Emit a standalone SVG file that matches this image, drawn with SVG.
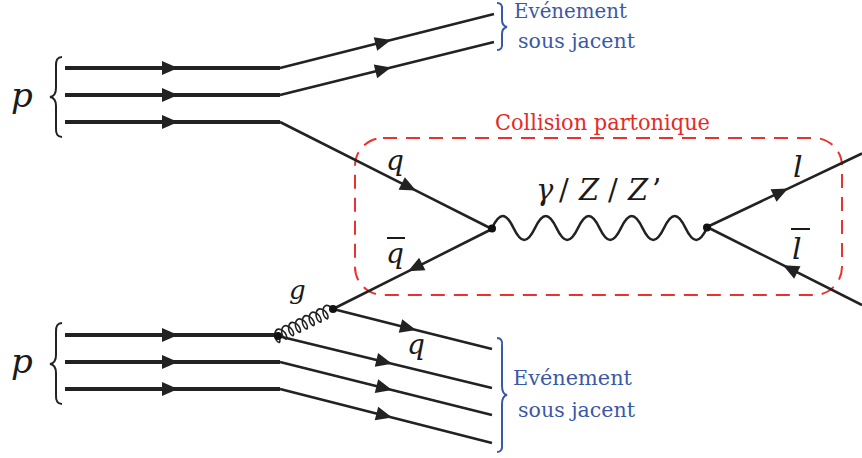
<svg xmlns="http://www.w3.org/2000/svg" width="862" height="458" viewBox="0 0 862 458">
<style>
.pl{fill:none;stroke:#222;stroke-width:4;marker-mid:url(#arr)}
.fl{fill:none;stroke:#222;stroke-width:2.6;marker-mid:url(#arr)}
.ln{fill:none;stroke:#222;stroke-width:2.6}
.gl{fill:none;stroke:#222;stroke-width:1.5}
.br{fill:none;stroke:#222;stroke-width:2}
.bb{fill:none;stroke:#3a58a8;stroke-width:2}
.math{font-family:'DejaVu Serif',serif;font-style:italic;fill:#1a1a1a}
.up{font-style:normal}
.blue{font-family:'DejaVu Serif',serif;fill:#3a58a8;font-size:20px}
.red{font-family:'DejaVu Serif',serif;fill:#e62a26;font-size:22px}
.dot{fill:#111}
</style>
<defs>
<marker id="arr" markerUnits="userSpaceOnUse" viewBox="-17 -8 18 16" markerWidth="18" markerHeight="16" refX="0" refY="0" orient="auto">
<path d="M0,0 L-16,-7 L-16,7 Z" fill="#222"/>
</marker>
</defs>
<rect width="862" height="458" fill="#fff"/>

<g id="box">
<rect x="355" y="138" width="487" height="157" rx="28" ry="28" fill="none" stroke="#e8332f" stroke-width="2" stroke-dasharray="14 9"/>
<text class="red" x="495" y="130" textLength="215" lengthAdjust="spacingAndGlyphs">Collision partonique</text>
</g>

<g id="connectors">
<path class="pl" d="M65,68 L178,68 L280,68"/>
<path class="pl" d="M65,95 L178,95 L280,95"/>
<path class="pl" d="M65,122 L178,122 L280,122"/>
<path class="fl" d="M280,68 L391,40 L494,14"/>
<path class="fl" d="M280,95 L391,67.5 L494,42"/>
<path class="fl" d="M280,122 L416,190.6 L492,229"/>
<path class="fl" d="M492,229 L408,271.3 L333,309"/>
<path class="ln" d="M492,228 c7.74,-16 13.76,-16 21.5,0 s13.76,16 21.5,0 s13.76,-16 21.5,0 s13.76,16 21.5,0 s13.76,-16 21.5,0 s13.76,16 21.5,0 s13.76,-16 21.5,0 s13.76,16 21.5,0 s13.76,-16 21.5,0 s13.76,16 21.5,0"/>
<path class="fl" d="M707,227 L788,188.6 L862,153.5"/>
<path class="fl" d="M862,305 L783,265.2 L707,227"/>
<path class="pl" d="M65,335 L178,335 L278,335"/>
<path class="pl" d="M65,362 L178,362 L280,362"/>
<path class="pl" d="M65,389 L178,389 L280,389"/>
<path class="gl" transform="translate(278,336) rotate(-26.14) scale(1,1.25)" d="M0,0 c0.638,2.618 -0.391,5 -1.585,5 c-1.194,0 -2.223,-2.382 -1.585,-5 c0.638,-2.618 2.944,-5 5.415,-5 c2.471,0 4.777,2.618 5.415,5 c0.638,2.618 -0.391,5 -1.585,5 c-1.194,0 -2.223,-2.382 -1.585,-5 c0.638,-2.618 2.944,-5 5.415,-5 c2.471,0 4.777,2.618 5.415,5 c0.638,2.618 -0.391,5 -1.585,5 c-1.194,0 -2.223,-2.382 -1.585,-5 c0.638,-2.618 2.944,-5 5.415,-5 c2.471,0 4.777,2.618 5.415,5 c0.638,2.618 -0.391,5 -1.585,5 c-1.194,0 -2.223,-2.382 -1.585,-5 c0.638,-2.618 2.944,-5 5.415,-5 c2.471,0 4.777,2.618 5.415,5 c0.638,2.618 -0.391,5 -1.585,5 c-1.194,0 -2.223,-2.382 -1.585,-5 c0.638,-2.618 2.944,-5 5.415,-5 c2.471,0 4.777,2.618 5.415,5 c0.638,2.618 -0.391,5 -1.585,5 c-1.194,0 -2.223,-2.382 -1.585,-5 c0.638,-2.618 2.944,-5 5.415,-5 c2.471,0 4.777,2.618 5.415,5 c0.638,2.618 -0.391,5 -1.585,5 c-1.194,0 -2.223,-2.382 -1.585,-5 c0.638,-2.618 2.944,-5 5.415,-5 c2.471,0 4.777,2.618 5.415,5 c0.638,2.618 -0.391,5 -1.585,5 c-1.194,0 -2.223,-2.382 -1.585,-5 c0.638,-2.618 2.944,-5 5.415,-5 c2.471,0 4.777,2.618 5.415,5"/>
<path class="fl" d="M333,309 L416,329.9 L492,349"/>
<path class="fl" d="M278,336 L392,363.7 L492,388"/>
<path class="fl" d="M280,362 L392,390 L492,415"/>
<path class="fl" d="M280,389 L392,417.5 L492,443"/>
</g>

<g id="vertices">
<circle class="dot" cx="492" cy="228.5" r="4"/>
<circle class="dot" cx="707" cy="227.5" r="4"/>
<circle class="dot" cx="278" cy="336" r="4"/>
<circle class="dot" cx="333" cy="309" r="4"/>
</g>

<g id="proton-top">
<text class="math" x="11" y="107" font-size="34">p</text>
<path class="br" d="M62,57 Q55.5,57 56,66 L56,88 Q56,96 50,97 Q56,98 56,106 L56,128 Q55.5,137 62,137"/>
</g>
<g id="proton-bottom">
<text class="math" x="11" y="373" font-size="34">p</text>
<path class="br" d="M62,323 Q55.5,323 56,332 L56,355 Q56,363 50,364 Q56,365 56,373 L56,395 Q55.5,404 62,404"/>
</g>

<g id="ue-top">
<path class="bb" d="M497,3 Q503,3 502,10 L502,20 Q502,26 507,27 Q502,28 502,34 L502,43 Q503,50 497,50"/>
<text class="blue" x="514" y="18" textLength="113" lengthAdjust="spacingAndGlyphs">Evénement</text>
<text class="blue" x="518" y="48" textLength="117" lengthAdjust="spacingAndGlyphs">sous jacent</text>
</g>
<g id="ue-bottom">
<path class="bb" d="M497,338 Q503,338 502,346 L502,386 Q502,394 507,395 Q502,396 502,404 L502,444 Q503,452 497,452"/>
<text class="blue" x="513" y="385" font-size="21" textLength="119" lengthAdjust="spacingAndGlyphs">Evénement</text>
<text class="blue" x="518" y="417" font-size="21" textLength="117" lengthAdjust="spacingAndGlyphs">sous jacent</text>
</g>

<g id="labels">
<text class="math" x="386" y="170" font-size="28">q</text>
<text class="math" x="386" y="263" font-size="28">q</text>
<line x1="387" y1="238" x2="405" y2="238" stroke="#1a1a1a" stroke-width="2"/>
<text class="math" x="289" y="299" font-size="26">g</text>
<text class="math" x="407" y="354" font-size="28">q</text>
<text class="math" x="793" y="177" font-size="30">l</text>
<text class="math" x="792" y="259" font-size="30">l</text>
<line x1="791" y1="229" x2="810" y2="229" stroke="#1a1a1a" stroke-width="2"/>
<text class="math" y="200" font-size="29"><tspan x="536">γ</tspan><tspan class="up" x="559">/</tspan><tspan x="579">Z</tspan><tspan class="up" x="608">/</tspan><tspan x="628">Z</tspan><tspan class="up" x="652">’</tspan></text>
</g>
</svg>
